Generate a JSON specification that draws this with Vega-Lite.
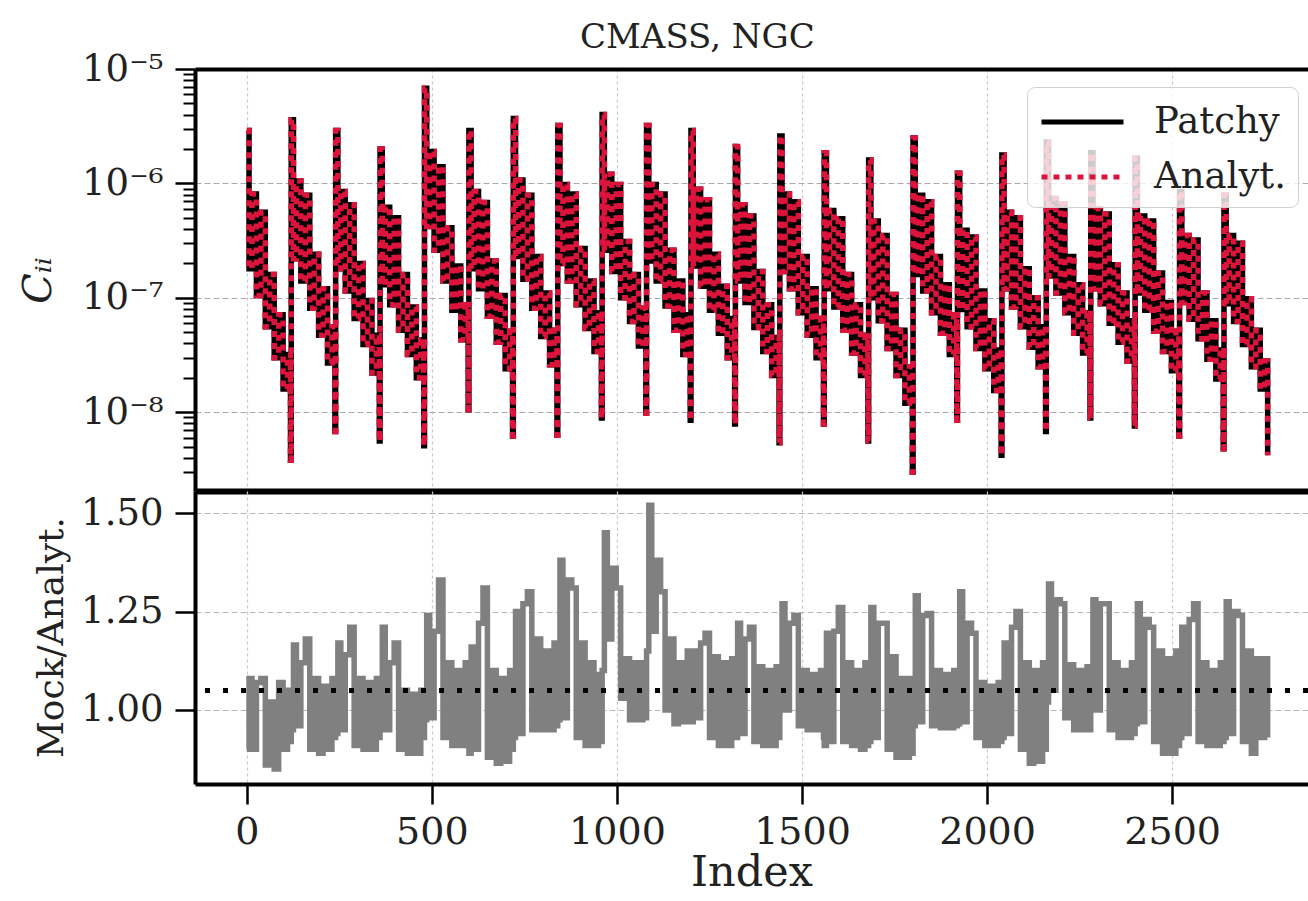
{
  "$schema": "https://vega.github.io/schema/vega-lite/v6.json",
  "padding": {"left": 18, "top": 21, "right": 0, "bottom": 5},
  "bounds": "flush",
  "spacing": 0,
  "config": {
    "font": "DejaVu Serif",
    "view": {"stroke": null},
    "axis": {"labelFont": "DejaVu Serif", "titleFont": "DejaVu Serif", "labelColor": "#222", "titleColor": "#222", "titleFontWeight": "normal", "domainColor": "black", "tickColor": "black"}
  },
  "title": {"text": "CMASS, NGC", "anchor": "start", "dx": 385, "fontSize": 34, "font": "DejaVu Serif", "fontWeight": "normal", "color": "#222", "offset": -5, "frame": "group"},
  "datasets": {
    "cov": [
      {"i":0,"p":2.9e-6,"a":2.9e-6,"r":0.90},{"i":6,"p":1.8e-7,"a":1.8e-7,"r":1.08},{"i":14,"p":8.1e-7,"a":8.1e-7,"r":0.90},{"i":26,"p":1.05e-7,"a":1.05e-7,"r":1.07},{"i":38,"p":5.6e-7,"a":5.6e-7,"r":1.08},{"i":50,"p":5.6e-8,"a":5.6e-8,"r":0.86},{"i":62,"p":1.6e-7,"a":1.6e-7,"r":1.02},{"i":74,"p":3.0e-8,"a":3.0e-8,"r":0.85},{"i":86,"p":7.1e-8,"a":7.1e-8,"r":1.07},{"i":98,"p":1.6e-8,"a":1.6e-8,"r":0.90},{"i":110,"p":3.2e-8,"a":3.2e-8,"r":1.05},{"i":118,"p":3.8e-9,"a":3.8e-9,"r":0.92},
      {"i":120,"p":3.6e-6,"a":3.6e-6,"r":0.95},{"i":126,"p":2.2e-7,"a":2.2e-7,"r":1.165},{"i":134,"p":1.05e-6,"a":1.05e-6,"r":0.96},{"i":146,"p":1.4e-7,"a":1.4e-7,"r":1.12},{"i":158,"p":7.9e-7,"a":7.9e-7,"r":1.18},{"i":170,"p":8.1e-8,"a":8.1e-8,"r":0.90},{"i":182,"p":2.4e-7,"a":2.4e-7,"r":1.08},{"i":194,"p":4.7e-8,"a":4.7e-8,"r":0.89},{"i":206,"p":1.2e-7,"a":1.2e-7,"r":1.06},{"i":218,"p":2.7e-8,"a":2.7e-8,"r":0.90},{"i":230,"p":5.6e-8,"a":5.6e-8,"r":1.08},{"i":238,"p":6.8e-9,"a":6.8e-9,"r":0.93},
      {"i":240,"p":2.9e-6,"a":2.9e-6,"r":0.94},{"i":246,"p":1.8e-7,"a":1.8e-7,"r":1.17},{"i":254,"p":8.5e-7,"a":8.5e-7,"r":0.95},{"i":266,"p":1.15e-7,"a":1.15e-7,"r":1.14},{"i":278,"p":6.5e-7,"a":6.5e-7,"r":1.21},{"i":290,"p":6.6e-8,"a":6.6e-8,"r":0.91},{"i":302,"p":2.0e-7,"a":2.0e-7,"r":1.08},{"i":314,"p":3.9e-8,"a":3.9e-8,"r":0.90},{"i":326,"p":9.5e-8,"a":9.5e-8,"r":1.07},{"i":338,"p":2.2e-8,"a":2.2e-8,"r":0.90},{"i":350,"p":4.7e-8,"a":4.7e-8,"r":1.08},{"i":358,"p":5.6e-9,"a":5.6e-9,"r":0.93},
      {"i":360,"p":2.0e-6,"a":2.0e-6,"r":0.95},{"i":366,"p":1.3e-7,"a":1.3e-7,"r":1.21},{"i":374,"p":6.2e-7,"a":6.2e-7,"r":0.95},{"i":386,"p":8.7e-8,"a":8.7e-8,"r":1.12},{"i":398,"p":5.0e-7,"a":5.0e-7,"r":1.17},{"i":410,"p":5.2e-8,"a":5.2e-8,"r":0.90},{"i":422,"p":1.6e-7,"a":1.6e-7,"r":1.05},{"i":434,"p":3.2e-8,"a":3.2e-8,"r":0.89},{"i":446,"p":8.3e-8,"a":8.3e-8,"r":1.04},{"i":458,"p":2.0e-8,"a":2.0e-8,"r":0.89},{"i":470,"p":4.3e-8,"a":4.3e-8,"r":1.05},{"i":478,"p":5.1e-9,"a":5.1e-9,"r":0.93},
      {"i":480,"p":6.8e-6,"a":6.8e-6,"r":0.975},{"i":486,"p":4.2e-7,"a":4.2e-7,"r":1.24},{"i":494,"p":1.9e-6,"a":1.9e-6,"r":0.98},{"i":506,"p":2.6e-7,"a":2.6e-7,"r":1.20},{"i":518,"p":1.4e-6,"a":1.4e-6,"r":1.33},{"i":530,"p":1.4e-7,"a":1.4e-7,"r":0.93},{"i":542,"p":4.1e-7,"a":4.1e-7,"r":1.12},{"i":554,"p":7.8e-8,"a":7.8e-8,"r":0.91},{"i":566,"p":1.9e-7,"a":1.9e-7,"r":1.10},{"i":578,"p":4.3e-8,"a":4.3e-8,"r":0.91},{"i":590,"p":8.7e-8,"a":8.7e-8,"r":1.12},{"i":598,"p":1.05e-8,"a":1.05e-8,"r":0.93},
      {"i":600,"p":2.9e-6,"a":2.9e-6,"r":0.89},{"i":606,"p":1.8e-7,"a":1.8e-7,"r":1.16},{"i":614,"p":8.5e-7,"a":8.5e-7,"r":0.90},{"i":626,"p":1.2e-7,"a":1.2e-7,"r":1.22},{"i":638,"p":6.8e-7,"a":6.8e-7,"r":1.31},{"i":650,"p":6.9e-8,"a":6.9e-8,"r":0.88},{"i":662,"p":2.1e-7,"a":2.1e-7,"r":1.10},{"i":674,"p":4.1e-8,"a":4.1e-8,"r":0.865},{"i":686,"p":1.05e-7,"a":1.05e-7,"r":1.08},{"i":698,"p":2.4e-8,"a":2.4e-8,"r":0.87},{"i":710,"p":5.1e-8,"a":5.1e-8,"r":1.10},{"i":718,"p":6.2e-9,"a":6.2e-9,"r":0.90},
      {"i":720,"p":3.7e-6,"a":3.7e-6,"r":0.93},{"i":726,"p":2.3e-7,"a":2.3e-7,"r":1.25},{"i":734,"p":1.07e-6,"a":1.07e-6,"r":0.94},{"i":746,"p":1.45e-7,"a":1.45e-7,"r":1.27},{"i":758,"p":7.9e-7,"a":7.9e-7,"r":1.30},{"i":770,"p":8.1e-8,"a":8.1e-8,"r":0.95},{"i":782,"p":2.3e-7,"a":2.3e-7,"r":1.18},{"i":794,"p":4.6e-8,"a":4.6e-8,"r":0.95},{"i":806,"p":1.1e-7,"a":1.1e-7,"r":1.15},{"i":818,"p":2.6e-8,"a":2.6e-8,"r":0.95},{"i":830,"p":5.2e-8,"a":5.2e-8,"r":1.17},{"i":838,"p":6.3e-9,"a":6.3e-9,"r":0.96},
      {"i":840,"p":3.2e-6,"a":3.2e-6,"r":0.975},{"i":846,"p":2.0e-7,"a":2.0e-7,"r":1.38},{"i":854,"p":9.8e-7,"a":9.8e-7,"r":0.98},{"i":866,"p":1.4e-7,"a":1.4e-7,"r":1.33},{"i":878,"p":8.1e-7,"a":8.1e-7,"r":1.31},{"i":890,"p":8.7e-8,"a":8.7e-8,"r":0.93},{"i":902,"p":2.7e-7,"a":2.7e-7,"r":1.17},{"i":914,"p":5.4e-8,"a":5.4e-8,"r":0.91},{"i":926,"p":1.4e-7,"a":1.4e-7,"r":1.12},{"i":938,"p":3.4e-8,"a":3.4e-8,"r":0.91},{"i":950,"p":7.4e-8,"a":7.4e-8,"r":1.09},{"i":958,"p":8.9e-9,"a":8.9e-9,"r":0.92},
      {"i":960,"p":4.0e-6,"a":4.0e-6,"r":1.10},{"i":966,"p":2.6e-7,"a":2.6e-7,"r":1.45},{"i":974,"p":1.2e-6,"a":1.2e-6,"r":1.18},{"i":986,"p":1.7e-7,"a":1.7e-7,"r":1.36},{"i":998,"p":9.8e-7,"a":9.8e-7,"r":1.31},{"i":1010,"p":1.0e-7,"a":1.0e-7,"r":1.03},{"i":1022,"p":3.1e-7,"a":3.1e-7,"r":1.13},{"i":1034,"p":6.2e-8,"a":6.2e-8,"r":0.975},{"i":1046,"p":1.6e-7,"a":1.6e-7,"r":1.12},{"i":1058,"p":3.8e-8,"a":3.8e-8,"r":0.975},{"i":1070,"p":8.1e-8,"a":8.1e-8,"r":1.12},{"i":1078,"p":9.8e-9,"a":9.8e-9,"r":0.98},
      {"i":1080,"p":3.2e-6,"a":3.2e-6,"r":1.15},{"i":1086,"p":2.1e-7,"a":2.1e-7,"r":1.52},{"i":1094,"p":9.8e-7,"a":9.8e-7,"r":1.20},{"i":1106,"p":1.4e-7,"a":1.4e-7,"r":1.38},{"i":1118,"p":8.1e-7,"a":8.1e-7,"r":1.30},{"i":1130,"p":8.5e-8,"a":8.5e-8,"r":1.00},{"i":1142,"p":2.6e-7,"a":2.6e-7,"r":1.18},{"i":1154,"p":5.2e-8,"a":5.2e-8,"r":0.965},{"i":1166,"p":1.4e-7,"a":1.4e-7,"r":1.12},{"i":1178,"p":3.2e-8,"a":3.2e-8,"r":0.97},{"i":1190,"p":7.1e-8,"a":7.1e-8,"r":1.15},{"i":1198,"p":8.5e-9,"a":8.5e-9,"r":0.98},
      {"i":1200,"p":2.9e-6,"a":2.9e-6,"r":0.97},{"i":1206,"p":1.9e-7,"a":1.9e-7,"r":1.15},{"i":1214,"p":8.9e-7,"a":8.9e-7,"r":0.98},{"i":1226,"p":1.26e-7,"a":1.26e-7,"r":1.17},{"i":1238,"p":7.2e-7,"a":7.2e-7,"r":1.195},{"i":1250,"p":7.8e-8,"a":7.8e-8,"r":0.93},{"i":1262,"p":2.4e-7,"a":2.4e-7,"r":1.135},{"i":1274,"p":4.9e-8,"a":4.9e-8,"r":0.91},{"i":1286,"p":1.26e-7,"a":1.26e-7,"r":1.12},{"i":1298,"p":3.0e-8,"a":3.0e-8,"r":0.91},{"i":1310,"p":6.6e-8,"a":6.6e-8,"r":1.13},{"i":1318,"p":7.9e-9,"a":7.9e-9,"r":0.93},
      {"i":1320,"p":2.1e-6,"a":2.1e-6,"r":0.93},{"i":1326,"p":1.4e-7,"a":1.4e-7,"r":1.22},{"i":1334,"p":6.5e-7,"a":6.5e-7,"r":0.94},{"i":1346,"p":9.1e-8,"a":9.1e-8,"r":1.18},{"i":1358,"p":5.2e-7,"a":5.2e-7,"r":1.21},{"i":1370,"p":5.5e-8,"a":5.5e-8,"r":0.92},{"i":1382,"p":1.7e-7,"a":1.7e-7,"r":1.11},{"i":1394,"p":3.4e-8,"a":3.4e-8,"r":0.91},{"i":1406,"p":8.7e-8,"a":8.7e-8,"r":1.10},{"i":1418,"p":2.1e-8,"a":2.1e-8,"r":0.91},{"i":1430,"p":4.5e-8,"a":4.5e-8,"r":1.11},{"i":1438,"p":5.4e-9,"a":5.4e-9,"r":0.93},
      {"i":1440,"p":2.6e-6,"a":2.6e-6,"r":1.00},{"i":1446,"p":1.7e-7,"a":1.7e-7,"r":1.27},{"i":1454,"p":8.1e-7,"a":8.1e-7,"r":1.00},{"i":1466,"p":1.2e-7,"a":1.2e-7,"r":1.22},{"i":1478,"p":6.9e-7,"a":6.9e-7,"r":1.24},{"i":1490,"p":7.4e-8,"a":7.4e-8,"r":0.96},{"i":1502,"p":2.3e-7,"a":2.3e-7,"r":1.10},{"i":1514,"p":4.7e-8,"a":4.7e-8,"r":0.95},{"i":1526,"p":1.2e-7,"a":1.2e-7,"r":1.09},{"i":1538,"p":3.0e-8,"a":3.0e-8,"r":0.95},{"i":1550,"p":6.6e-8,"a":6.6e-8,"r":1.10},{"i":1558,"p":7.9e-9,"a":7.9e-9,"r":0.93},
      {"i":1560,"p":1.85e-6,"a":1.85e-6,"r":0.91},{"i":1566,"p":1.2e-7,"a":1.2e-7,"r":1.195},{"i":1574,"p":5.8e-7,"a":5.8e-7,"r":0.92},{"i":1586,"p":8.3e-8,"a":8.3e-8,"r":1.20},{"i":1598,"p":4.9e-7,"a":4.9e-7,"r":1.26},{"i":1610,"p":5.2e-8,"a":5.2e-8,"r":0.92},{"i":1622,"p":1.6e-7,"a":1.6e-7,"r":1.12},{"i":1634,"p":3.3e-8,"a":3.3e-8,"r":0.91},{"i":1646,"p":8.7e-8,"a":8.7e-8,"r":1.10},{"i":1658,"p":2.1e-8,"a":2.1e-8,"r":0.90},{"i":1670,"p":4.7e-8,"a":4.7e-8,"r":1.12},{"i":1678,"p":5.6e-9,"a":5.6e-9,"r":0.91},
      {"i":1680,"p":1.6e-6,"a":1.6e-6,"r":0.92},{"i":1686,"p":1.0e-7,"a":1.0e-7,"r":1.26},{"i":1694,"p":4.7e-7,"a":4.7e-7,"r":0.93},{"i":1706,"p":6.3e-8,"a":6.3e-8,"r":1.22},{"i":1718,"p":3.5e-7,"a":3.5e-7,"r":1.22},{"i":1730,"p":3.6e-8,"a":3.6e-8,"r":0.90},{"i":1742,"p":1.07e-7,"a":1.07e-7,"r":1.135},{"i":1754,"p":2.1e-8,"a":2.1e-8,"r":0.88},{"i":1766,"p":5.2e-8,"a":5.2e-8,"r":1.08},{"i":1778,"p":1.2e-8,"a":1.2e-8,"r":0.88},{"i":1790,"p":2.5e-8,"a":2.5e-8,"r":1.08},{"i":1798,"p":3.0e-9,"a":3.0e-9,"r":0.89},
      {"i":1800,"p":2.5e-6,"a":2.5e-6,"r":0.96},{"i":1806,"p":1.6e-7,"a":1.6e-7,"r":1.29},{"i":1814,"p":7.9e-7,"a":7.9e-7,"r":0.97},{"i":1826,"p":1.15e-7,"a":1.15e-7,"r":1.24},{"i":1838,"p":6.9e-7,"a":6.9e-7,"r":1.245},{"i":1850,"p":7.4e-8,"a":7.4e-8,"r":0.96},{"i":1862,"p":2.3e-7,"a":2.3e-7,"r":1.10},{"i":1874,"p":4.9e-8,"a":4.9e-8,"r":0.955},{"i":1886,"p":1.3e-7,"a":1.3e-7,"r":1.09},{"i":1898,"p":3.2e-8,"a":3.2e-8,"r":0.955},{"i":1910,"p":7.1e-8,"a":7.1e-8,"r":1.10},{"i":1918,"p":8.5e-9,"a":8.5e-9,"r":0.96},
      {"i":1920,"p":1.23e-6,"a":1.23e-6,"r":0.965},{"i":1926,"p":7.9e-8,"a":7.9e-8,"r":1.30},{"i":1934,"p":3.9e-7,"a":3.9e-7,"r":0.97},{"i":1946,"p":5.6e-8,"a":5.6e-8,"r":1.22},{"i":1958,"p":3.4e-7,"a":3.4e-7,"r":1.195},{"i":1970,"p":3.6e-8,"a":3.6e-8,"r":0.93},{"i":1982,"p":1.15e-7,"a":1.15e-7,"r":1.07},{"i":1994,"p":2.4e-8,"a":2.4e-8,"r":0.91},{"i":2006,"p":6.3e-8,"a":6.3e-8,"r":1.06},{"i":2018,"p":1.55e-8,"a":1.55e-8,"r":0.91},{"i":2030,"p":3.5e-8,"a":3.5e-8,"r":1.07},{"i":2038,"p":4.2e-9,"a":4.2e-9,"r":0.92},
      {"i":2040,"p":1.77e-6,"a":1.77e-6,"r":0.93},{"i":2046,"p":1.2e-7,"a":1.2e-7,"r":1.17},{"i":2054,"p":5.6e-7,"a":5.6e-7,"r":0.94},{"i":2066,"p":8.3e-8,"a":8.3e-8,"r":1.21},{"i":2078,"p":5.0e-7,"a":5.0e-7,"r":1.25},{"i":2090,"p":5.6e-8,"a":5.6e-8,"r":0.90},{"i":2102,"p":1.8e-7,"a":1.8e-7,"r":1.12},{"i":2114,"p":3.7e-8,"a":3.7e-8,"r":0.865},{"i":2126,"p":1.0e-7,"a":1.0e-7,"r":1.10},{"i":2138,"p":2.5e-8,"a":2.5e-8,"r":0.87},{"i":2150,"p":5.6e-8,"a":5.6e-8,"r":1.12},{"i":2158,"p":6.8e-9,"a":6.8e-9,"r":0.90},
      {"i":2160,"p":2.3e-6,"a":2.3e-6,"r":1.02},{"i":2166,"p":1.55e-7,"a":1.55e-7,"r":1.32},{"i":2174,"p":7.4e-7,"a":7.4e-7,"r":1.05},{"i":2186,"p":1.1e-7,"a":1.1e-7,"r":1.28},{"i":2198,"p":6.6e-7,"a":6.6e-7,"r":1.27},{"i":2210,"p":7.4e-8,"a":7.4e-8,"r":0.98},{"i":2222,"p":2.3e-7,"a":2.3e-7,"r":1.115},{"i":2234,"p":4.9e-8,"a":4.9e-8,"r":0.95},{"i":2246,"p":1.3e-7,"a":1.3e-7,"r":1.10},{"i":2258,"p":3.3e-8,"a":3.3e-8,"r":0.95},{"i":2270,"p":7.4e-8,"a":7.4e-8,"r":1.11},{"i":2278,"p":8.9e-9,"a":8.9e-9,"r":0.95},
      {"i":2280,"p":1.85e-6,"a":1.85e-6,"r":1.00},{"i":2286,"p":1.2e-7,"a":1.2e-7,"r":1.28},{"i":2294,"p":6.0e-7,"a":6.0e-7,"r":1.00},{"i":2306,"p":8.9e-8,"a":8.9e-8,"r":1.27},{"i":2318,"p":5.4e-7,"a":5.4e-7,"r":1.27},{"i":2330,"p":6.0e-8,"a":6.0e-8,"r":0.95},{"i":2342,"p":1.95e-7,"a":1.95e-7,"r":1.12},{"i":2354,"p":4.1e-8,"a":4.1e-8,"r":0.93},{"i":2366,"p":1.1e-7,"a":1.1e-7,"r":1.10},{"i":2378,"p":2.8e-8,"a":2.8e-8,"r":0.93},{"i":2390,"p":6.3e-8,"a":6.3e-8,"r":1.12},{"i":2398,"p":7.6e-9,"a":7.6e-9,"r":0.94},
      {"i":2400,"p":1.66e-6,"a":1.66e-6,"r":0.965},{"i":2406,"p":1.1e-7,"a":1.1e-7,"r":1.27},{"i":2414,"p":5.2e-7,"a":5.2e-7,"r":0.97},{"i":2426,"p":7.8e-8,"a":7.8e-8,"r":1.23},{"i":2438,"p":4.7e-7,"a":4.7e-7,"r":1.21},{"i":2450,"p":5.1e-8,"a":5.1e-8,"r":0.92},{"i":2462,"p":1.65e-7,"a":1.65e-7,"r":1.15},{"i":2474,"p":3.4e-8,"a":3.4e-8,"r":0.89},{"i":2486,"p":9.1e-8,"a":9.1e-8,"r":1.13},{"i":2498,"p":2.3e-8,"a":2.3e-8,"r":0.89},{"i":2510,"p":5.1e-8,"a":5.1e-8,"r":1.15},{"i":2518,"p":6.2e-9,"a":6.2e-9,"r":0.91},
      {"i":2520,"p":8.5e-7,"a":8.5e-7,"r":0.93},{"i":2526,"p":9.1e-8,"a":9.1e-8,"r":1.21},{"i":2534,"p":3.5e-7,"a":3.5e-7,"r":0.94},{"i":2546,"p":6.5e-8,"a":6.5e-8,"r":1.23},{"i":2558,"p":3.2e-7,"a":3.2e-7,"r":1.27},{"i":2570,"p":4.4e-8,"a":4.4e-8,"r":0.92},{"i":2582,"p":1.1e-7,"a":1.1e-7,"r":1.12},{"i":2594,"p":2.9e-8,"a":2.9e-8,"r":0.91},{"i":2606,"p":6.3e-8,"a":6.3e-8,"r":1.10},{"i":2618,"p":1.95e-8,"a":1.95e-8,"r":0.91},{"i":2630,"p":3.5e-8,"a":3.5e-8,"r":1.12},{"i":2638,"p":4.8e-9,"a":4.8e-9,"r":0.92},
      {"i":2640,"p":7.9e-7,"a":7.9e-7,"r":0.93},{"i":2646,"p":8.9e-8,"a":8.9e-8,"r":1.275},{"i":2654,"p":3.5e-7,"a":3.5e-7,"r":0.94},{"i":2666,"p":6.2e-8,"a":6.2e-8,"r":1.25},{"i":2678,"p":3.0e-7,"a":3.0e-7,"r":1.24},{"i":2690,"p":3.9e-8,"a":3.9e-8,"r":0.92},{"i":2702,"p":9.8e-8,"a":9.8e-8,"r":1.15},{"i":2714,"p":2.5e-8,"a":2.5e-8,"r":0.89},{"i":2726,"p":5.2e-8,"a":5.2e-8,"r":1.13},{"i":2738,"p":1.6e-8,"a":1.6e-8,"r":0.93},{"i":2750,"p":2.8e-8,"a":2.8e-8,"r":1.13},{"i":2758,"p":4.2e-9,"a":4.2e-9,"r":0.93}
    ]
  },
  "vconcat": [
    {
      "width": 1113,
      "height": 422,
      "data": {"name": "cov"},
      "layer": [
        {
          "mark": {"type": "line", "interpolate": "step-after", "strokeWidth": 5.5, "clip": true},
          "encoding": {
            "x": {"field": "i", "type": "quantitative", "scale": {"domain": [-140, 2867], "nice": false, "zero": false},
              "axis": {"orient": "bottom", "values": [0, 500, 1000, 1500, 2000, 2500], "labels": false, "ticks": false, "title": null, "domain": true, "domainWidth": 6, "grid": true, "gridColor": "#c8c8c8", "gridDash": [3, 3], "gridWidth": 1.2}},
            "y": {"field": "p", "type": "quantitative", "scale": {"type": "log", "domain": [2.05e-9, 1e-5], "nice": false},
              "axis": {"orient": "left", "values": [1e-8, 1e-7, 1e-6, 1e-5], "labelExpr": "'10⁻' + ['⁰','¹','²','³','⁴','⁵','⁶','⁷','⁸','⁹'][round(-log(datum.value)/LN10)]", "labelFontSize": 37, "labelPadding": 12, "tickSize": 20, "tickWidth": 2.5, "domain": true, "domainWidth": 4, "grid": true, "gridColor": "#aaaaaa", "gridDash": [6, 3], "gridWidth": 1.2,
                "title": "Cᵢᵢ", "titleFontStyle": "italic", "titleFontSize": 40, "titleX": -157, "titleY": 211, "titleAngle": 270, "titleAlign": "center", "titleBaseline": "middle"}},
            "color": {"datum": "Patchy", "type": "nominal", "scale": {"domain": ["Patchy", "Analyt."], "range": ["black", "#dc143c"]},
              "legend": {"orient": "none", "legendX": 832, "legendY": 18, "title": null, "symbolType": "M-1,0H3", "symbolSize": 1681, "symbolStrokeWidth": 5, "labelFontSize": 37, "labelFont": "DejaVu Serif", "labelColor": "#222", "fillColor": "rgba(255,255,255,0.8)", "strokeColor": "#d0d0d0", "cornerRadius": 8, "padding": 12, "rowPadding": 14, "labelOffset": 69, "zindex": 1}},
            "strokeDash": {"datum": "Patchy", "type": "nominal", "scale": {"domain": ["Patchy", "Analyt."], "range": [[1, 0], [6, 6]]},
              "legend": {"orient": "none", "legendX": 832, "legendY": 18, "title": null, "symbolType": "M-1,0H3", "symbolSize": 1681, "symbolStrokeWidth": 5, "labelFontSize": 37, "labelFont": "DejaVu Serif", "labelColor": "#222", "fillColor": "rgba(255,255,255,0.8)", "strokeColor": "#d0d0d0", "cornerRadius": 8, "padding": 12, "rowPadding": 14, "labelOffset": 69, "zindex": 1}}
          }
        },
        {
          "mark": {"type": "line", "interpolate": "step-after", "strokeWidth": 5.5, "clip": true},
          "encoding": {
            "x": {"field": "i", "type": "quantitative",
              "axis": {"orient": "top", "labels": false, "ticks": false, "grid": false, "title": null, "domain": true, "domainWidth": 4}},
            "y": {"field": "a", "type": "quantitative",
              "axis": {"orient": "left", "values": [3e-9, 4e-9, 5e-9, 6e-9, 7e-9, 8e-9, 9e-9, 2e-8, 3e-8, 4e-8, 5e-8, 6e-8, 7e-8, 8e-8, 9e-8, 2e-7, 3e-7, 4e-7, 5e-7, 6e-7, 7e-7, 8e-7, 9e-7, 2e-6, 3e-6, 4e-6, 5e-6, 6e-6, 7e-6, 8e-6, 9e-6], "labels": false, "tickSize": 12, "tickWidth": 2, "domain": false, "grid": false, "title": null}},
            "color": {"datum": "Analyt.", "type": "nominal"},
            "strokeDash": {"datum": "Analyt.", "type": "nominal"}
          }
        }
      ],
      "resolve": {"axis": {"x": "independent", "y": "independent"}}
    },
    {
      "width": 1113,
      "height": 293,
      "data": {"name": "cov"},
      "layer": [
        {
          "mark": {"type": "line", "interpolate": "step-after", "color": "#808080", "strokeWidth": 5.5, "clip": true},
          "encoding": {
            "x": {"field": "i", "type": "quantitative", "scale": {"domain": [-140, 2867], "nice": false, "zero": false},
              "axis": {"orient": "bottom", "values": [0, 500, 1000, 1500, 2000, 2500], "format": "d", "labelFontSize": 38, "labelPadding": 9, "tickSize": 20, "tickWidth": 2.5, "domain": true, "domainWidth": 4, "grid": true, "gridColor": "#c8c8c8", "gridDash": [3, 3], "gridWidth": 1.2, "title": "Index", "titleFontSize": 43, "titlePadding": 0}},
            "y": {"field": "r", "type": "quantitative", "scale": {"domain": [0.812, 1.556], "nice": false, "zero": false},
              "axis": {"values": [1.0, 1.25, 1.5], "format": ".2f", "labelFontSize": 37, "labelPadding": 12, "tickSize": 20, "tickWidth": 2.5, "domain": true, "domainWidth": 4, "grid": true, "gridColor": "#b8b8b8", "gridDash": [6, 3], "gridWidth": 1.2,
                "title": "Mock/Analyt.", "titleFontSize": 36, "titleX": -144, "titleY": 146, "titleAngle": 270, "titleAlign": "center", "titleBaseline": "middle"}}
          }
        },
        {
          "mark": {"type": "rule", "color": "black", "strokeWidth": 4.5, "strokeDash": [5, 13]},
          "encoding": {"y": {"datum": 1.05}}
        }
      ]
    }
  ]
}
